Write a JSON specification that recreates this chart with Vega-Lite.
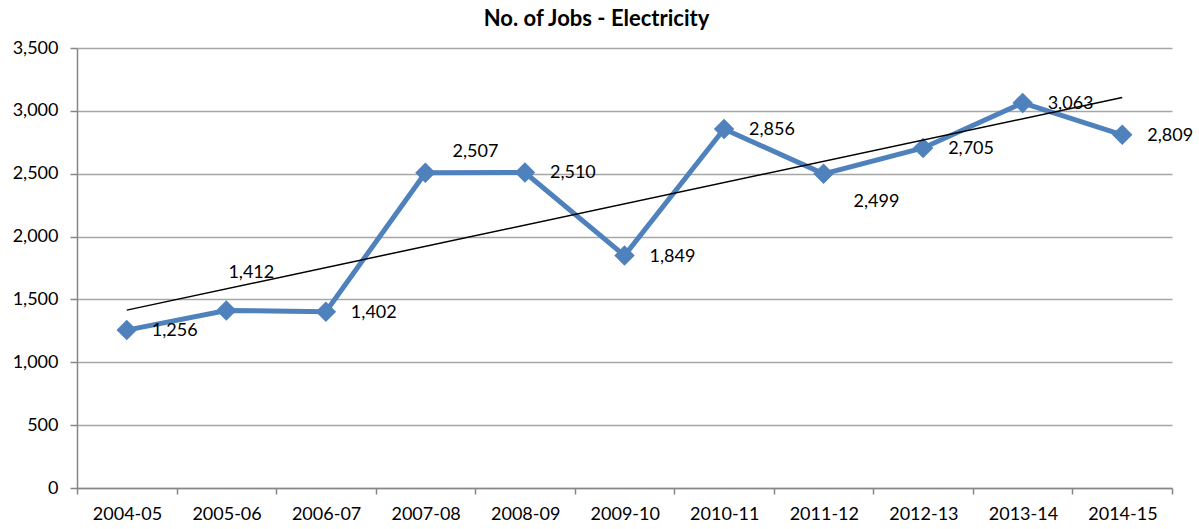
{
  "$schema": "https://vega.github.io/schema/vega-lite/v6.json",
  "autosize": {"type": "none"},
  "width": 1095,
  "height": 440,
  "padding": {"left": 77, "top": 48, "right": 27, "bottom": 41},
  "background": "white",
  "title": {
    "text": "No. of Jobs - Electricity",
    "font": "Lato",
    "fontSize": 22,
    "fontWeight": "bold",
    "color": "black",
    "anchor": "middle",
    "baseline": "alphabetic",
    "offset": -9,
    "dx": -28
  },
  "data": {
    "values": [
      {"year": "2004-05", "i": 0, "value": 1256},
      {"year": "2005-06", "i": 1, "value": 1412},
      {"year": "2006-07", "i": 2, "value": 1402},
      {"year": "2007-08", "i": 3, "value": 2507},
      {"year": "2008-09", "i": 4, "value": 2510},
      {"year": "2009-10", "i": 5, "value": 1849},
      {"year": "2010-11", "i": 6, "value": 2856},
      {"year": "2011-12", "i": 7, "value": 2499},
      {"year": "2012-13", "i": 8, "value": 2705},
      {"year": "2013-14", "i": 9, "value": 3063},
      {"year": "2014-15", "i": 10, "value": 2809}
    ]
  },
  "encoding": {
    "x": {
      "field": "i",
      "type": "quantitative",
      "scale": {"domain": [-0.5, 10.5], "nice": false, "zero": false},
      "axis": {
        "title": null,
        "values": [-0.5, 0.5, 1.5, 2.5, 3.5, 4.5, 5.5, 6.5, 7.5, 8.5, 9.5, 10.5],
        "labelExpr": "datum.value < 10 ? ['2004-05','2005-06','2006-07','2007-08','2008-09','2009-10','2010-11','2011-12','2012-13','2013-14','2014-15'][round(datum.value + 0.5)] : ''",
        "labelOffset": 50,
        "labelOverlap": false,
        "labelFlush": false,
        "labelBound": false,
        "grid": false,
        "tickSize": 6,
        "labelPadding": 11
      }
    },
    "y": {
      "field": "value",
      "type": "quantitative",
      "scale": {"domain": [0, 3500], "nice": false},
      "axis": {
        "title": null,
        "values": [0, 500, 1000, 1500, 2000, 2500, 3000, 3500],
        "format": ",.0f",
        "grid": true,
        "tickSize": 7,
        "labelPadding": 12
      }
    }
  },
  "layer": [
    {
      "mark": {
        "type": "line",
        "color": "#4F81BD",
        "strokeWidth": 5,
        "point": {"shape": "diamond", "size": 420, "filled": true, "color": "#4F81BD", "opacity": 1}
      }
    },
    {
      "transform": [{"regression": "value", "on": "i", "method": "linear"}],
      "mark": {"type": "line", "color": "black", "strokeWidth": 1.5}
    },
    {
      "transform": [{"filter": "datum.year != '2005-06' && datum.year != '2007-08' && datum.year != '2011-12'"}],
      "mark": {"type": "text", "align": "left", "baseline": "middle", "dx": 25, "dy": 1, "font": "Lato", "fontSize": 18, "color": "black"},
      "encoding": {"text": {"field": "value", "type": "quantitative", "format": ",.0f"}}
    },
    {
      "transform": [{"filter": "datum.year == '2005-06'"}],
      "mark": {"type": "text", "align": "center", "baseline": "middle", "dx": 25, "dy": -37, "font": "Lato", "fontSize": 18, "color": "black"},
      "encoding": {"text": {"field": "value", "type": "quantitative", "format": ",.0f"}}
    },
    {
      "transform": [{"filter": "datum.year == '2007-08'"}],
      "mark": {"type": "text", "align": "center", "baseline": "middle", "dx": 50, "dy": -21, "font": "Lato", "fontSize": 18, "color": "black"},
      "encoding": {"text": {"field": "value", "type": "quantitative", "format": ",.0f"}}
    },
    {
      "transform": [{"filter": "datum.year == '2011-12'"}],
      "mark": {"type": "text", "align": "left", "baseline": "middle", "dx": 30, "dy": 28, "font": "Lato", "fontSize": 18, "color": "black"},
      "encoding": {"text": {"field": "value", "type": "quantitative", "format": ",.0f"}}
    }
  ],
  "config": {
    "view": {"stroke": null},
    "axis": {
      "labelFont": "Lato",
      "labelFontSize": 18,
      "labelColor": "black",
      "domainColor": "#868686",
      "domainWidth": 1.5,
      "tickColor": "#868686",
      "tickWidth": 1.5,
      "gridColor": "#A6A6A6",
      "gridWidth": 1.5
    }
  }
}
